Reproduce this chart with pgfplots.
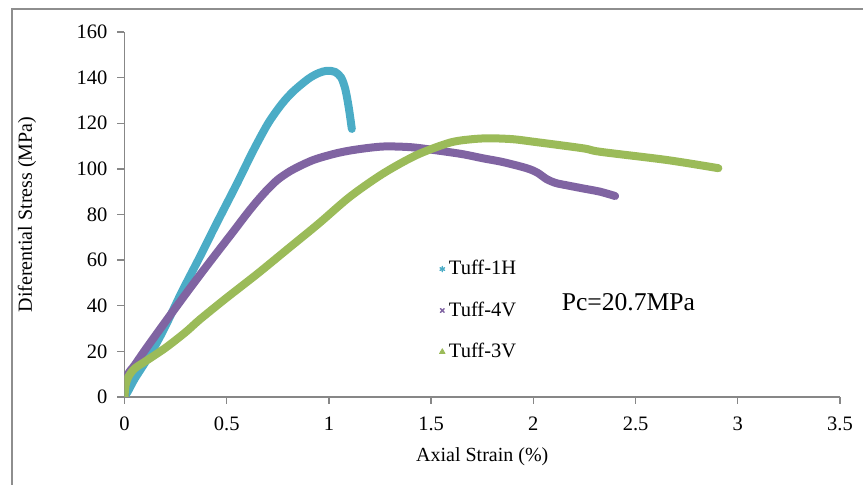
\documentclass[border=0pt]{standalone}
\usepackage{fontspec}
\setmainfont{Liberation Serif}
\usepackage{pgfplots}
\pgfplotsset{compat=1.18}
\definecolor{TuffBlue}{HTML}{4BACC6}
\definecolor{TuffPurple}{HTML}{8064A2}
\definecolor{TuffGreen}{HTML}{9BBB59}
\definecolor{AxGray}{HTML}{878787}
\definecolor{FrameGray}{HTML}{8E8E8E}
\begin{document}
\begin{tikzpicture}
\useasboundingbox (-62.25pt,-44pt) rectangle (369.25pt,198.5pt);
\begin{axis}[
 at={(0,0)},anchor=south west,
 scale only axis,width=357.75pt,height=182.5pt,
 xmin=0,xmax=3.5,ymin=0,ymax=160,
 xtick={0,0.5,...,3.5},ytick={0,20,...,160},
 axis lines*=left,
 axis line style={draw=AxGray,line width=0.65pt},
 tick style={draw=AxGray,line width=0.65pt},
 tick align=outside,major tick length=3.5pt,
 /pgf/number format/assume math mode=true,
 tick label style={font=\fontsize{10.25}{12}\selectfont},
 yticklabel style={xshift=-1.5pt},
 xticklabel style={yshift=-3pt},
 label style={font=\fontsize{10.25}{12}\selectfont},
 xlabel={Axial Strain (\%)},
 ylabel={Diferential Stress (MPa)},
 every axis x label/.style={at={(axis description cs:0.5,-0.1644)},anchor=center},
 every axis y label/.style={at={(axis description cs:-0.1363,0.5)},rotate=90,anchor=center},
 legend style={draw=none,fill=none,at={(axis cs:1.492,62.7)},anchor=north west,
  font=\fontsize{10.25}{12}\selectfont,row sep=10pt,
  nodes={inner sep=1pt}},
 legend cell align=left,
 legend image code/.code={\draw[#1] plot coordinates {(0.1cm,0cm)};\path (0cm,0cm) (0.17cm,0cm);},
 every axis plot/.append style={line width=4pt,line join=round,line cap=round},
]
\addlegendimage{only marks,mark=asterisk,color=TuffBlue,mark size=1.3pt,line width=0.7pt}
\addlegendentry{Tuff-1H}
\addlegendimage{only marks,mark=x,color=TuffPurple,mark size=1.3pt,line width=0.7pt}
\addlegendentry{Tuff-4V}
\addlegendimage{only marks,mark=triangle*,color=TuffGreen,mark size=1.6pt,line width=0.4pt}
\addlegendentry{Tuff-3V}
% Tuff-1H
\addplot[TuffBlue,smooth,forget plot] coordinates {
(0,0)(0.02,3)(0.05,8)(0.1,15)(0.15,22.5)(0.2,31)(0.28,46)(0.369,61.5)(0.45,76)
(0.55,93.5)(0.63,108)(0.703,120)(0.77,128.5)(0.826,134)(0.9,139.5)(0.95,142)
(0.99,143)(1.03,142.5)(1.06,140)(1.08,135)(1.095,128)(1.105,122)(1.112,117.5)};
% Tuff-4V
\addplot[TuffPurple,smooth,forget plot] coordinates {
(0,0)(0.003,5)(0.017,10)(0.05,14)(0.1,20.5)(0.18,30.5)(0.29,44)(0.369,53.5)
(0.45,63)(0.532,72.5)(0.6,80.5)(0.65,86)(0.7,91)(0.75,95.3)(0.81,99)
(0.88,102.2)(0.94,104.4)(1.04,106.9)(1.136,108.5)(1.266,109.8)(1.4,109.5)
(1.51,108.3)(1.65,106.5)(1.755,104.6)(1.85,103)(1.967,100.3)(2.02,98.3)
(2.065,95.5)(2.11,93.8)(2.163,92.8)(2.25,91.3)(2.326,90)(2.4,88.1)};
% Tuff-3V
\addplot[TuffGreen,smooth,forget plot] coordinates {
(0,0)(0.005,5)(0.02,9)(0.05,12.5)(0.1,15.5)(0.2,21.5)(0.3,28.5)(0.369,34)
(0.5,43.5)(0.65,54)(0.8,65)(0.95,76)(1.103,87.8)(1.266,98)(1.43,106.1)
(1.592,111.5)(1.7,113)(1.788,113.4)(1.9,113)(2.0,111.9)(2.244,109)(2.326,107.5)
(2.652,103.9)(2.905,100.3)};
\node[font=\fontsize{12.8}{15}\selectfont] at (axis cs:2.465,41.5) {Pc=20.7MPa};
\end{axis}
\draw[FrameGray,line width=0.7pt] (-56.25pt,-44pt) -- (-56.25pt,194pt) -- (369.25pt,194pt);
\end{tikzpicture}
\end{document}
